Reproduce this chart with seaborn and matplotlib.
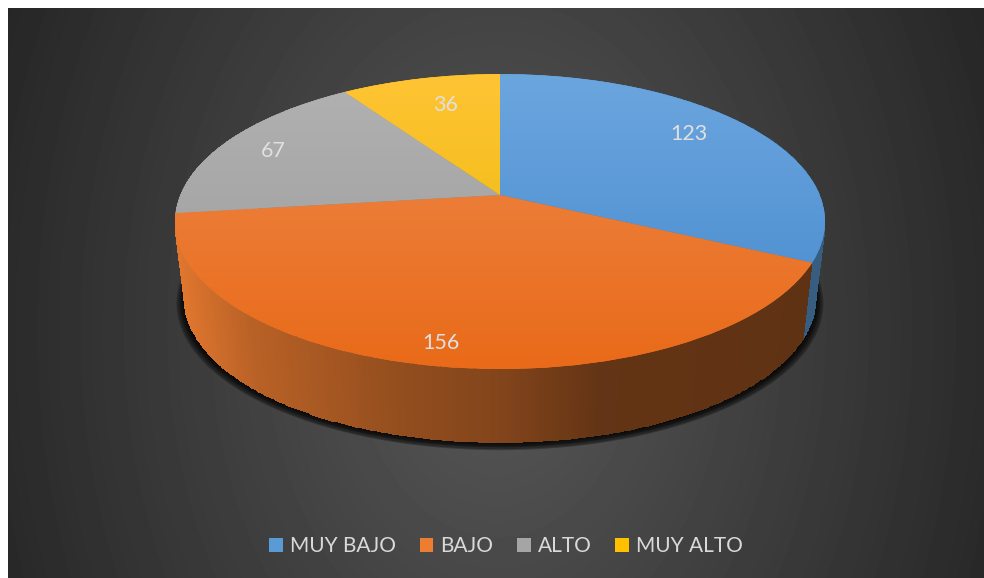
import numpy as np
import matplotlib
matplotlib.use("Agg")
import matplotlib.pyplot as plt
from matplotlib.colors import LinearSegmentedColormap, to_rgb
from matplotlib.patches import Patch
from matplotlib.transforms import Transform
import seaborn as sns

categories = ["MUY BAJO", "BAJO", "ALTO", "MUY ALTO"]
counts = [123, 156, 67, 36]

base_colors = sns.color_palette(["#5B9BD5", "#ED7D31", "#A5A5A5", "#FFC000"])
face_top = ["#6CA6DF", "#EE8A4E", "#B2B2B2", "#FFC435"]
face_bottom = ["#4488CC", "#E96A18", "#9A9A9A", "#E8B800"]
rim_boost = [1.5, 1.0, 1.0, 1.0]
label_xy = [(689, 134), (441, 343), (273, 151), (446, 105)]

sns.set_theme(style="white")
plt.rcParams["font.family"] = ["Lato", "DejaVu Sans"]

W, H = 984, 578
CX, TOP_CY, LOW_CY = 500.0, 195.0, 274.0
A, B, K, LOW_SCALE = 319.7, 142.7, 0.18, 0.97


def disc_to_screen(u, v, cy=TOP_CY, scale=1.0):
    """Perspective view of the unit disc, in screen pixels."""
    d = 1 + K * v
    return CX + scale * A * u / d, cy - scale * B * v / d


class DiscTransform(Transform):
    input_dims = output_dims = 2
    is_affine = False
    has_inverse = False

    def transform_non_affine(self, values):
        values = np.asarray(values, dtype=float)
        x, y = disc_to_screen(values[:, 0], values[:, 1])
        return np.column_stack([x, y])


fig = plt.figure(figsize=(W / 100, H / 100), dpi=100, facecolor="white")
ax = fig.add_axes([0, 0, 1, 1])

wedges, _ = ax.pie(counts, colors=base_colors, startangle=90, counterclock=False,
                   radius=1.0, wedgeprops={"linewidth": 0, "zorder": 5})
ax.set_aspect("auto")
ax.set_xlim(0, W)
ax.set_ylim(H, 0)
ax.axis("off")

# Backdrop: dark panel with a soft glow towards the middle
yy, xx = np.mgrid[8:H, 8:W]
dist = np.sqrt(((xx - 496) / 490.0) ** 2 + ((yy - 330) / 700.0) ** 2)
glow = np.clip(88 - 45 * dist, 34, 92)
ax.imshow(glow, extent=(8, W, H, 8), cmap="gray", vmin=0, vmax=255,
          aspect="auto", zorder=0, interpolation="bilinear")

# Soft shadow hugging the lower outline
t = np.linspace(0, 2 * np.pi, 300)
for grow, offs in zip([1.026, 1.020, 1.015, 1.010, 1.005], [3, 3, 2, 2, 1]):
    sx, sy = disc_to_screen(np.cos(t), np.sin(t), LOW_CY + offs, LOW_SCALE * grow)
    ax.fill(sx, sy, color="black", alpha=0.28, lw=0, zorder=1)

# Side walls, far wedges first, lit from the left
shade_x = [176, 250, 400, 500, 600, 830]
shade_f = [0.95, 0.78, 0.62, 0.55, 0.42, 0.40]
mids = [np.sin(np.radians((w.theta1 + w.theta2) / 2)) for w in wedges]
for rank, i in enumerate(np.argsort(mids)[::-1]):
    w = wedges[i]
    ang = np.radians(np.linspace(w.theta1, w.theta2, 241))
    u, v = np.cos(ang), np.sin(ang)
    x0, y0 = disc_to_screen(u, v)
    x1, y1 = disc_to_screen(u, v, LOW_CY, LOW_SCALE)
    X = np.vstack([x0, x1])
    Y = np.vstack([y0, y1])
    f = np.interp((x0[:-1] + x0[1:]) / 2, shade_x, shade_f) * rim_boost[i]
    rgb = np.clip(np.outer(f, to_rgb(base_colors[i])), 0, 1)
    ax.pcolormesh(X, Y, rgb[np.newaxis, :, :], zorder=2 + rank * 0.1, shading="flat")

# Top faces with a vertical sheen
transform = DiscTransform() + ax.transData
ramp = np.linspace(0, 1, 256)[:, np.newaxis]
for w, top, bottom in zip(wedges, face_top, face_bottom):
    w.set_transform(transform)
    w.set_clip_on(False)
    cmap = LinearSegmentedColormap.from_list("face", [top, bottom])
    im = ax.imshow(ramp, extent=(170, 830, 372, 70), cmap=cmap, aspect="auto", zorder=6)
    im.set_clip_path(w)
ax.set_xlim(0, W)
ax.set_ylim(H, 0)

for value, (lx, ly) in zip(counts, label_xy):
    ax.text(lx, ly, str(value), color="#E0E0E0", fontsize=15.5, ha="center",
            va="center", zorder=7)

handles = [Patch(facecolor=c, edgecolor="none") for c in base_colors]
ax.legend(handles, categories, ncol=4, loc="center", frameon=False,
          bbox_to_anchor=(506, 546), bbox_transform=ax.transData,
          fontsize=15, labelcolor="#D9D9D9", handlelength=0.65,
          handleheight=0.65, handletextpad=0.33, columnspacing=1.15,
          borderpad=0, borderaxespad=0)

fig.savefig("out.png", dpi=100, facecolor="white")
